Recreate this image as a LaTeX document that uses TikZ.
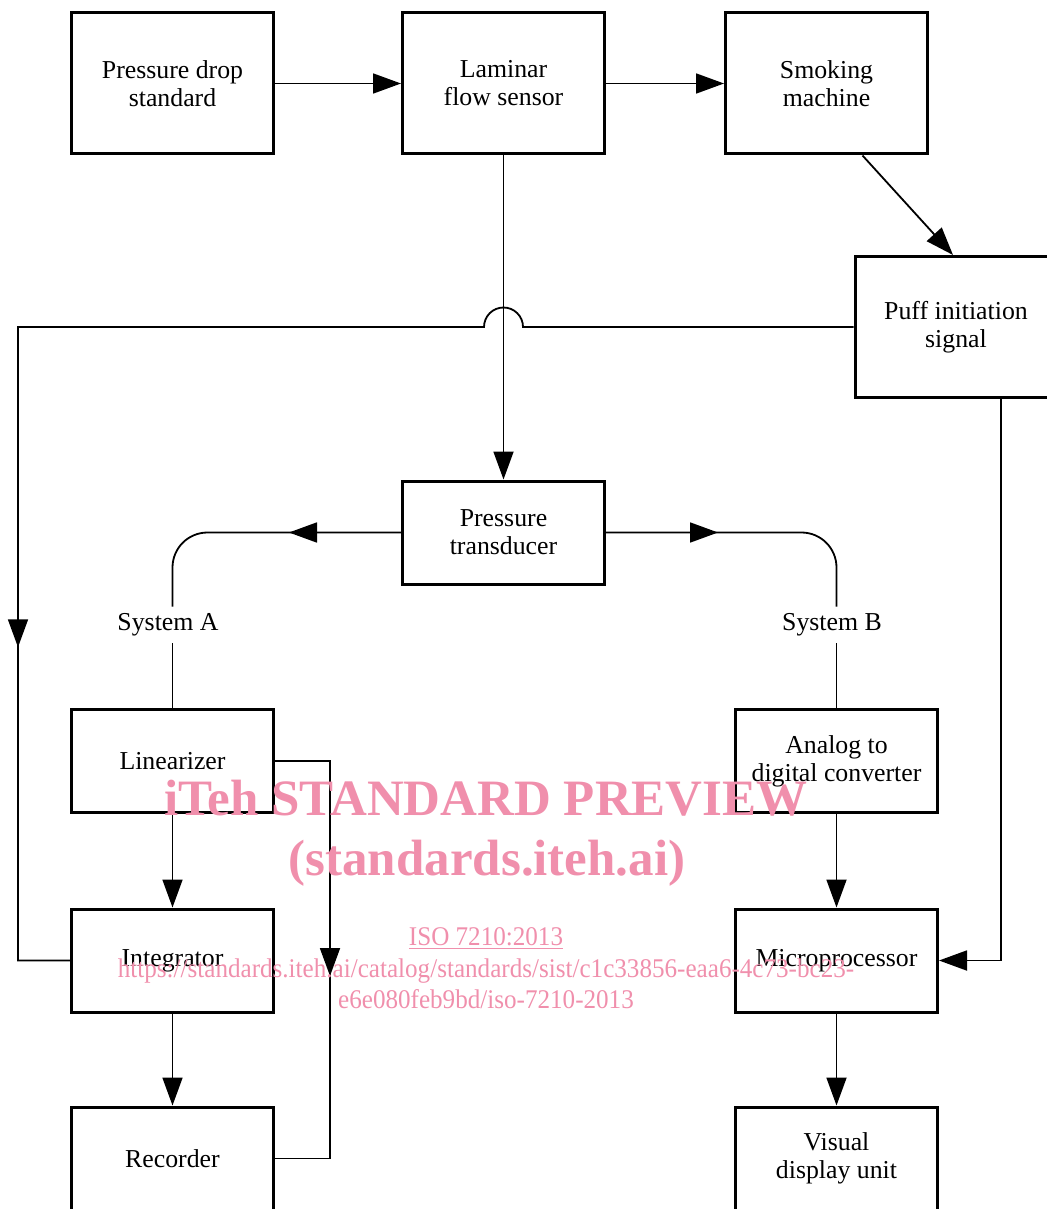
\documentclass[tikz,border=0pt]{standalone}
\usepackage{fontspec}
\setmainfont{Liberation Serif}
\newfontfamily\wmfont[FakeStretch=0.93]{Liberation Serif}
\usetikzlibrary{arrows.meta,decorations.markings}
\definecolor{wmpink}{RGB}{240,143,172}

\begin{document}
\begin{tikzpicture}[x=0.5pt,y=-0.5pt,
  every node/.style={font=\fontsize{12.9}{14}\selectfont},
  blk/.style={draw,line width=1.5pt,align=center,inner sep=0pt,minimum width=101pt,minimum height=51.5pt},
  tall/.style={minimum height=70.5pt},
  flow/.style={line width=0.9pt},
  >={Triangle[length=14pt,width=10pt]},
  flowmark/.style={postaction={decorate},decoration={markings,mark=at position #1 with {\arrow{>}}}},
  wm/.style={text=wmpink,anchor=base}]
\useasboundingbox (0,0) rectangle (1047,1209);
\node[blk,tall] (pds) at (172.5,83.5) {Pressure drop\\standard};
\node[blk,tall] (lfs) at (503.5,83.5) {Laminar\\flow sensor};
\node[blk,tall] (smk) at (826.5,83.5) {Smoking\\machine};
\node[blk,tall] (puff) at (956,327) {Puff initiation\\signal};
\node[blk] (ptr) at (503.5,532.5) {Pressure\\transducer};
\node (sysa) at (168,625) {System A};
\node (sysb) at (832,625) {System B};
\node[blk] (lin) at (172.5,761) {Linearizer};
\node[blk] (adc) at (836.5,761) {Analog to\\digital converter};
\node[blk] (integ) at (172.5,960.5) {Integrator};
\node[blk] (micro) at (836.5,960.5) {Microprocessor};
\node[blk] (rec) at (172.5,1158.5) {Recorder};
\node[blk] (vdu) at (836.5,1158.5) {Visual\\display unit};
\coordinate (hop) at (lfs.south |- puff.west);
\coordinate (rail) at (18,327);
% top row and feed to the transducer
\draw[flow,->] (pds) -- (lfs);
\draw[flow,->] (lfs) -- (smk);
\draw[flow,->] ([xshift=18pt]smk.south) -- ([xshift=-1.5pt]puff.north);
\draw[flow,->] (lfs) -- (ptr);
% puff signal lines
\draw[flow,flowmark=589pt] (puff.west) -- ([xshift=9.75pt]hop) arc[start angle=0,end angle=180,radius=9.75pt] -- (rail) |- (integ.west);
\draw[flow,->] ([xshift=22.5pt]puff.south) |- (micro.east);
% system A and system B
\draw[flow,rounded corners=17.5pt,flowmark=56pt] (ptr.west) -| (lin.north |- sysa.north);
\draw[flow] (sysa.south -| lin.north) -- (lin.north);
\draw[flow,rounded corners=17.5pt,flowmark=56pt] (ptr.east) -| (adc.north |- sysb.north);
\draw[flow] (sysb.south -| adc.north) -- (adc.north);
\draw[flow,->] (lin) -- (integ);
\draw[flow,->] (integ) -- (rec);
\draw[flow,->] (adc) -- (micro);
\draw[flow,->] (micro) -- (vdu);
\draw[flow,flowmark=135pt] (lin.east) -- ++(27.5pt,0) |- (rec.east);
% watermark
\node[wm,font=\fontsize{25.5}{30}\selectfont\bfseries] (wmtitle) at (486,815) {iTeh STANDARD PREVIEW};
\node[wm,font=\fontsize{25.5}{30}\selectfont\bfseries] (wmsite) at (487,875) {(standards.iteh.ai)};
\node[wm,font=\fontsize{13.5}{16}\wmfont] (wmiso) at (486,945) {\underline{ISO 7210:2013}};
\node[wm,font=\fontsize{13.5}{16}\wmfont] (wmurl) at (486,977) {https://standards.iteh.ai/catalog/standards/sist/c1c33856-eaa6-4c73-bc23-};
\node[wm,font=\fontsize{13.5}{16}\wmfont] (wmdoc) at (486,1008) {e6e080feb9bd/iso-7210-2013};
\end{tikzpicture}
\end{document}
